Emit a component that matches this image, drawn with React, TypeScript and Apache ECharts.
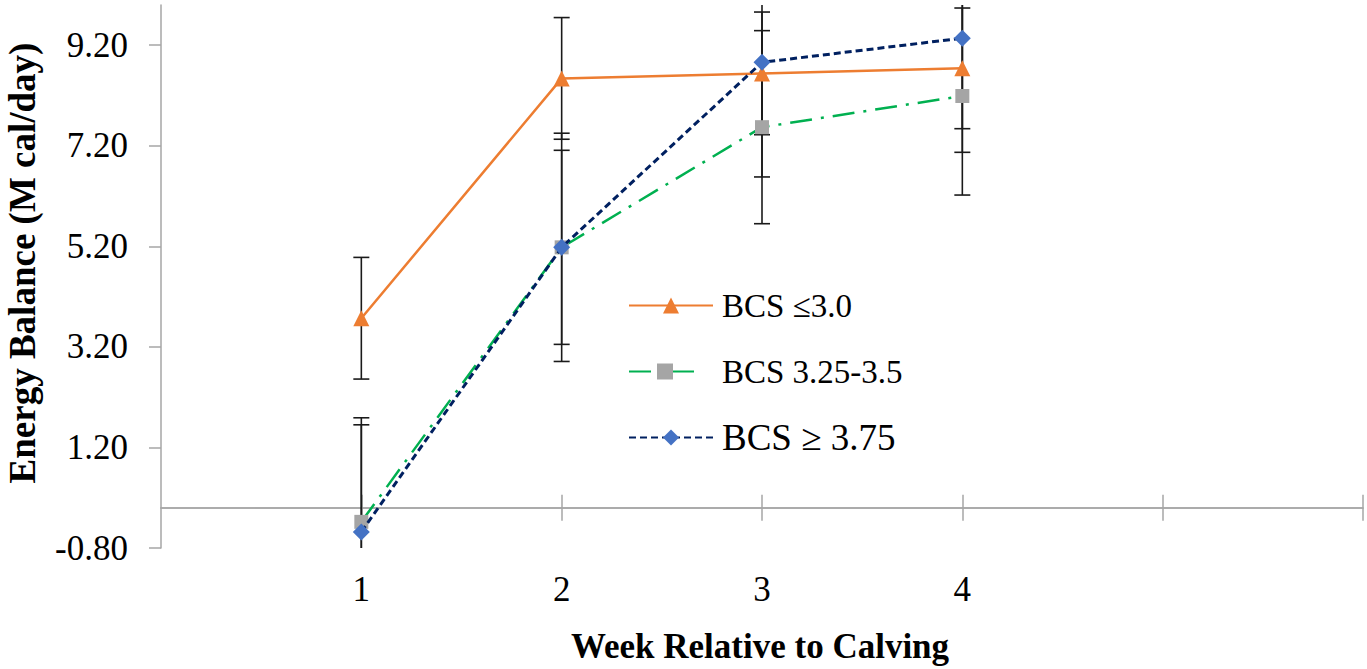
import React, { useEffect, useRef } from "react";
import * as echarts from "echarts";

const weeks = [1, 2, 3, 4];
const seriesNames = ["BCS ≤3.0", "BCS 3.25-3.5", "BCS ≥ 3.75"];
const bcsLow = [3.77, 8.54, 8.64, 8.74];
const bcsMid = [-0.28, 5.18, 7.57, 8.19];
const bcsHigh = [-0.48, 5.18, 8.86, 9.34];
const errLow = [1.21, 1.21, 1.22, 1.2];
const errMid = [1.93, 1.93, 1.92, 1.97];
const errHigh = [2.27, 2.27, 2.28, 2.27];
const yTicks = [-0.8, 1.2, 3.2, 5.2, 7.2, 9.2];
const xTicks = [1, 2, 3, 4, 5, 6];
const xLabels = [1, 2, 3, 4];
const Y_MIN = -0.8;
const Y_MAX = 10;
const X_MIN = 0;
const X_MAX = 6;

const FONT = "'Liberation Serif', 'Times New Roman', serif";
const AXIS_GRAY = "#A6A6A6";

export default function App() {
  const ref = useRef<HTMLDivElement>(null);

  useEffect(() => {
    if (!ref.current) return;
    const chart = echarts.init(ref.current, undefined, { renderer: "svg" });

    const toPairs = (vals: number[]) => weeks.map((w, i) => [w, vals[i]]);
    const errData: number[][] = [];
    [
      [bcsLow, errLow],
      [bcsMid, errMid],
      [bcsHigh, errHigh],
    ].forEach(([vals, errs]) => {
      weeks.forEach((w, i) => errData.push([w, vals[i], errs[i]]));
    });

    const axisLineStyle = { color: AXIS_GRAY, width: 1.5 };

    const option: any = {
      animation: false,
      backgroundColor: "#ffffff",
      grid: { left: 161, right: 4, top: 5, bottom: 121, containLabel: false },
      xAxis: [
        {
          type: "value",
          min: X_MIN,
          max: X_MAX,
          interval: 1,
          position: "bottom",
          axisLine: { show: true, onZero: true, onZeroAxisIndex: 0, lineStyle: axisLineStyle },
          axisTick: { show: true, length: 13, customValues: xTicks, lineStyle: axisLineStyle },
          axisLabel: {
            customValues: xLabels,
            formatter: (v: number) => (xLabels.indexOf(v) >= 0 ? String(v) : ""),
            margin: 24,
            fontSize: 35,
            color: "#000",
            fontFamily: FONT,
          },
          splitLine: { show: false },
        },
        {
          type: "value",
          min: X_MIN,
          max: X_MAX,
          interval: 1,
          position: "top",
          axisLine: { show: true, onZero: true, onZeroAxisIndex: 0, lineStyle: axisLineStyle },
          axisTick: { show: true, length: 13, customValues: xTicks, lineStyle: axisLineStyle },
          axisLabel: { show: false },
          splitLine: { show: false },
        },
      ],
      yAxis: {
        type: "value",
        min: Y_MIN,
        max: Y_MAX,
        axisLine: { show: true, onZero: false, lineStyle: axisLineStyle },
        axisTick: { show: true, length: 12, customValues: yTicks, lineStyle: axisLineStyle },
        axisLabel: {
          customValues: yTicks,
          formatter: (v: number) => v.toFixed(2),
          margin: 33,
          fontSize: 35,
          color: "#000",
          fontFamily: FONT,
        },
        splitLine: { show: false },
      },
      legend: [
        {
          data: [seriesNames[0]],
          left: 628,
          top: 289,
          padding: 0,
          itemWidth: 84,
          itemHeight: 20,
          selectedMode: false,
          textStyle: { fontSize: 33, fontFamily: FONT, color: "#000", padding: [0, 0, 0, 4] },
        },
        {
          data: [seriesNames[1]],
          left: 628,
          top: 355,
          padding: 0,
          itemWidth: 72,
          itemHeight: 20,
          selectedMode: false,
          textStyle: { fontSize: 33, fontFamily: FONT, color: "#000", padding: [0, 0, 0, 16] },
        },
        {
          data: [seriesNames[2]],
          left: 628,
          top: 419,
          padding: 0,
          itemWidth: 84,
          itemHeight: 20,
          selectedMode: false,
          textStyle: { fontSize: 37, fontFamily: FONT, color: "#000", padding: [0, 0, 0, 4] },
        },
      ],
      graphic: [
        {
          type: "text",
          x: 22,
          y: 263,
          rotation: Math.PI / 2,
          style: {
            text: "Energy Balance (M cal/day)",
            fontSize: 37,
            fontWeight: "bold",
            fontFamily: FONT,
            fill: "#000",
            align: "center",
            verticalAlign: "middle",
            textAlign: "center",
            textVerticalAlign: "middle",
          },
        },
        {
          type: "text",
          x: 760,
          y: 646,
          style: {
            text: "Week Relative to Calving",
            fontSize: 35,
            fontWeight: "bold",
            fontFamily: FONT,
            fill: "#000",
            align: "center",
            verticalAlign: "middle",
            textAlign: "center",
            textVerticalAlign: "middle",
          },
        },
      ],
      series: [
        {
          type: "custom",
          name: "SE",
          xAxisIndex: 0,
          z: 1,
          silent: true,
          encode: { x: 0, y: 1 },
          data: errData,
          renderItem: (params: any, api: any) => {
            const x = api.value(0);
            const y = api.value(1);
            const e = api.value(2);
            const hiV = Math.min(y + e, Y_MAX);
            const loV = Math.max(y - e, Y_MIN);
            const pTop = api.coord([x, hiV]);
            const pBot = api.coord([x, loV]);
            const style = { stroke: "#1a1a1a", lineWidth: 1.6 };
            const capHalf = 8;
            const children: any[] = [
              { type: "line", shape: { x1: pTop[0], y1: pTop[1], x2: pBot[0], y2: pBot[1] }, style },
            ];
            if (y + e <= Y_MAX) {
              children.push({
                type: "line",
                shape: { x1: pTop[0] - capHalf, y1: pTop[1], x2: pTop[0] + capHalf, y2: pTop[1] },
                style,
              });
            }
            if (y - e >= Y_MIN) {
              children.push({
                type: "line",
                shape: { x1: pBot[0] - capHalf, y1: pBot[1], x2: pBot[0] + capHalf, y2: pBot[1] },
                style,
              });
            }
            return { type: "group", children };
          },
        },
        {
          type: "line",
          name: seriesNames[0],
          xAxisIndex: 0,
          z: 3,
          data: toPairs(bcsLow),
          symbol: "triangle",
          symbolSize: 16,
          itemStyle: { color: "#ED7D31" },
          lineStyle: { color: "#ED7D31", width: 2.5, type: "solid" },
        },
        {
          type: "line",
          name: seriesNames[1],
          xAxisIndex: 0,
          z: 3,
          data: toPairs(bcsMid),
          symbol: "rect",
          symbolSize: 14,
          itemStyle: { color: "#A5A5A5" },
          lineStyle: { color: "#00B050", width: 2.5, type: [22, 9, 3, 9] },
        },
        {
          type: "line",
          name: seriesNames[2],
          xAxisIndex: 0,
          z: 4,
          data: toPairs(bcsHigh),
          symbol: "diamond",
          symbolSize: 17,
          itemStyle: { color: "#4472C4" },
          lineStyle: { color: "#002060", width: 3, type: [7, 4] },
        },
      ],
    };

    chart.setOption(option);
    return () => chart.dispose();
  }, []);

  return (
    <div
      ref={ref}
      style={{ position: "fixed", left: 0, top: 0, width: 1367, height: 669, background: "#fff" }}
    />
  );
}
